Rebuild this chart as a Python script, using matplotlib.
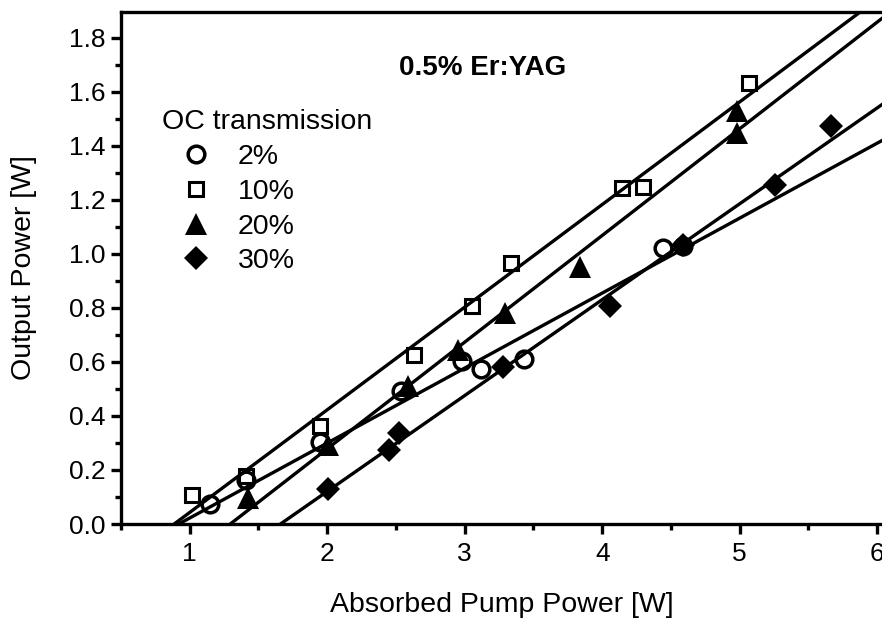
import matplotlib
import matplotlib.pyplot as plt
import numpy as np
from matplotlib.ticker import MultipleLocator, FormatStrFormatter

matplotlib.use('Agg')

plt.rcParams['font.family'] = ['Liberation Sans', 'DejaVu Sans']

# --- data ---
p2_x = [1.15, 1.41, 1.95, 2.54, 2.98, 3.12, 3.43, 4.44, 4.59]
p2_y = [0.074, 0.163, 0.305, 0.493, 0.604, 0.573, 0.611, 1.021, 1.03]
p10_x = [1.02, 1.41, 1.95, 2.63, 3.05, 3.335, 4.144, 4.30, 5.066]
p10_y = [0.107, 0.178, 0.364, 0.626, 0.809, 0.968, 1.243, 1.249, 1.632]
p20_x = [1.424, 2.006, 2.59, 2.95, 3.29, 3.84, 4.98, 4.98]
p20_y = [0.095, 0.293, 0.511, 0.644, 0.78, 0.953, 1.447, 1.53]
p30_x = [2.006, 2.449, 2.52, 3.28, 4.06, 4.588, 5.255, 5.667]
p30_y = [0.128, 0.274, 0.338, 0.58, 0.807, 1.033, 1.256, 1.472]

labels = ['2%', '10%', '20%', '30%']
# linear fits: threshold (x-intercept) and slope efficiency
fit_x0 = [0.92, 0.887, 1.295, 1.66]
fit_slope = [0.2776, 0.38, 0.395, 0.355]

fig = plt.figure(figsize=(8.82, 6.18), dpi=100)
ax = fig.add_axes([121 / 882, 94 / 618, 761 / 882, 512.3 / 618])

# fitted lines first
for x0, k in zip(fit_x0, fit_slope):
    xs = np.array([x0, 6.5])
    ax.plot(xs, k * (xs - x0), color='black', lw=2.4, zorder=2)

styles = [dict(marker='o', ms=12, mfc='none', mew=2.5),
          dict(marker='s', ms=9.5, mfc='none', mew=2.2),
          dict(marker='^', ms=16, mfc='black', mew=0),
          dict(marker='D', ms=12, mfc='black', mew=0)]
series = [(p2_x, p2_y), (p10_x, p10_y), (p20_x, p20_y), (p30_x, p30_y)]
for (xs, ys), st, lab in zip(series, styles, labels):
    ax.plot(xs, ys, ls='none', color='black', mec='black', label=lab, zorder=3, **st)

ax.set_xlim(0.5, 6.035)
ax.set_ylim(0, 1.897)
ax.xaxis.set_major_locator(MultipleLocator(1))
ax.xaxis.set_minor_locator(MultipleLocator(0.5))
ax.yaxis.set_major_locator(MultipleLocator(0.2))
ax.yaxis.set_minor_locator(MultipleLocator(0.1))
ax.yaxis.set_major_formatter(FormatStrFormatter('%.1f'))

ax.tick_params(which='both', direction='out', width=2.4, labelsize=19)
ax.tick_params(which='major', length=7, pad=4)
ax.tick_params(which='minor', length=4)
ax.tick_params(axis='x', which='major', pad=6)

for s in ['left', 'bottom', 'top']:
    ax.spines[s].set_linewidth(2.4)
ax.spines['right'].set_visible(False)

ax.set_xlabel('Absorbed Pump Power [W]', fontsize=20.5)
ax.set_ylabel('Output Power [W]', fontsize=20.5)
ax.xaxis.set_label_coords(0.5, -0.133)
ax.yaxis.set_label_coords(-0.11, 0.5)

ax.text(3.13, 1.69, '0.5% Er:YAG', fontsize=20, fontweight='bold', ha='center', va='center')

leg = ax.legend(title='OC transmission', loc='upper left', bbox_to_anchor=(0.054, 0.81),
                frameon=False, fontsize=20.5, title_fontsize=20.5, borderpad=0, borderaxespad=0,
                handlelength=2.4, handletextpad=0.25, labelspacing=0.31, alignment='left')

fig.savefig('out.png', dpi=100)
